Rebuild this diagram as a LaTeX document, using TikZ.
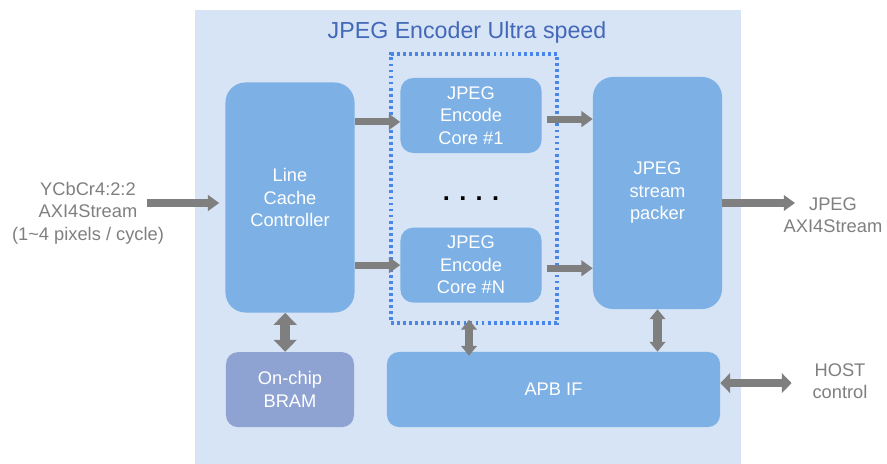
\documentclass[tikz,border=0pt]{standalone}
\usepackage{fontspec}
\setmainfont{Liberation Sans}
\usetikzlibrary{positioning, arrows.meta}

\definecolor{panelblue}{HTML}{D6E4F6}
\definecolor{blockblue}{HTML}{7DB0E4}
\definecolor{bramblue}{HTML}{8FA3D2}
\definecolor{titleblue}{HTML}{4468B8}
\definecolor{dotblue}{HTML}{4A86E8}
\definecolor{arrowgray}{HTML}{7F7F7F}

\begin{document}
\begin{tikzpicture}[
  x=0.025cm, y=-0.025cm,
  node distance=1cm,
  blk/.style={fill=blockblue, text=white, align=center, inner sep=0pt, font=\fontsize{13}{16}\selectfont},
  tall/.style={blk, rounded corners=0.5cm, minimum width=3.225cm, minimum height=5.75cm},
  core/.style={blk, rounded corners=0.32cm, minimum width=3.525cm, minimum height=1.875cm},
  low/.style={blk, rounded corners=0.3cm, minimum height=1.875cm},
  group/.style={draw=dotblue, line width=2.2pt, dash pattern=on 2pt off 2.3pt, minimum width=4.15cm, minimum height=6.725cm},
  side/.style={text=arrowgray, align=center, font=\fontsize{13}{16}\selectfont},
  flow/.style={-{Triangle[width=11pt,length=8pt]}, line width=5pt, draw=arrowgray},
  link/.style={{Triangle[width=11pt,length=7pt]}-{Triangle[width=11pt,length=7pt]}, line width=6pt, draw=arrowgray},
  widelink/.style={{Triangle[width=16pt,length=8.5pt]}-{Triangle[width=16pt,length=8.5pt]}, line width=7.5pt, draw=arrowgray}
]

\useasboundingbox (0,0) rectangle (887,464);
\fill[panelblue] (195,10) rectangle (741,464);

\node[text=titleblue, font=\fontsize{16.5}{18}\selectfont] (title) at (467,33) {JPEG Encoder Ultra speed};

\node[tall] (lcc) at (290,197.5) {Line\\Cache\\Controller};
\node[core] (core1) at (471,115.5) {JPEG\\Encode\\Core \#1};
\node[core, below=1.85cm of core1] (coreN) {JPEG\\Encode\\Core \#N};
\node[font=\fontsize{18}{18}\selectfont\bfseries] (dots) at (471,199) {. . . .};
\node[group] (cores) at (474,188.5) {};
\node[tall, minimum height=5.8cm] (packer) at (657.5,193) {JPEG\\stream\\packer};
\node[low, fill=bramblue, minimum width=3.2cm, below=0.975cm of lcc] (bram) {On-chip\\BRAM};
\node[low, minimum width=8.325cm] (apb) at (553.5,389.5) {APB IF};

\node[side] (yin) at (88,213) {YCbCr4:2:2\\AXI4Stream\\(1\textasciitilde4 pixels / cycle)};
\node[side] (jout) at (833,215) {JPEG\\AXI4Stream};
\node[side] (host) at (840,381) {HOST\\control};
\coordinate (ystart) at (147,203);
\coordinate (jend) at (795,203);

% data path
\draw[flow, shorten >=0.15cm] (ystart) -- (ystart -| lcc.west);
\draw[flow] ([yshift=-0.16cm]lcc.east |- core1.west) -- ([yshift=-0.16cm]core1.west);
\draw[flow] (lcc.east |- coreN.west) -- (coreN.west);
\draw[flow] ([xshift=0.12cm, yshift=-0.09cm]core1.east) -- ([yshift=-0.09cm]core1.east -| packer.west);
\draw[flow] ([xshift=0.12cm, yshift=-0.08cm]coreN.east) -- ([yshift=-0.08cm]coreN.east -| packer.west);
\draw[flow] (jend -| packer.east) -- (jend);

% control / memory
\draw[widelink] ([xshift=-0.12cm]lcc.south) -- ([xshift=-0.12cm]bram.north);
\draw[link] ([xshift=-0.125cm, yshift=0.12cm]cores.south) -- ([xshift=-0.125cm, yshift=-0.1cm]cores.south |- apb.north);
\draw[link] (packer.south) -- (packer.south |- apb.north);
\draw[link, {Triangle[width=14pt,length=7pt]}-{Triangle[width=14pt,length=7pt]}, shorten >=0.4cm] ([yshift=0.16cm]apb.east) -- ([yshift=0.16cm]apb.east -| host.west);

\end{tikzpicture}
\end{document}
